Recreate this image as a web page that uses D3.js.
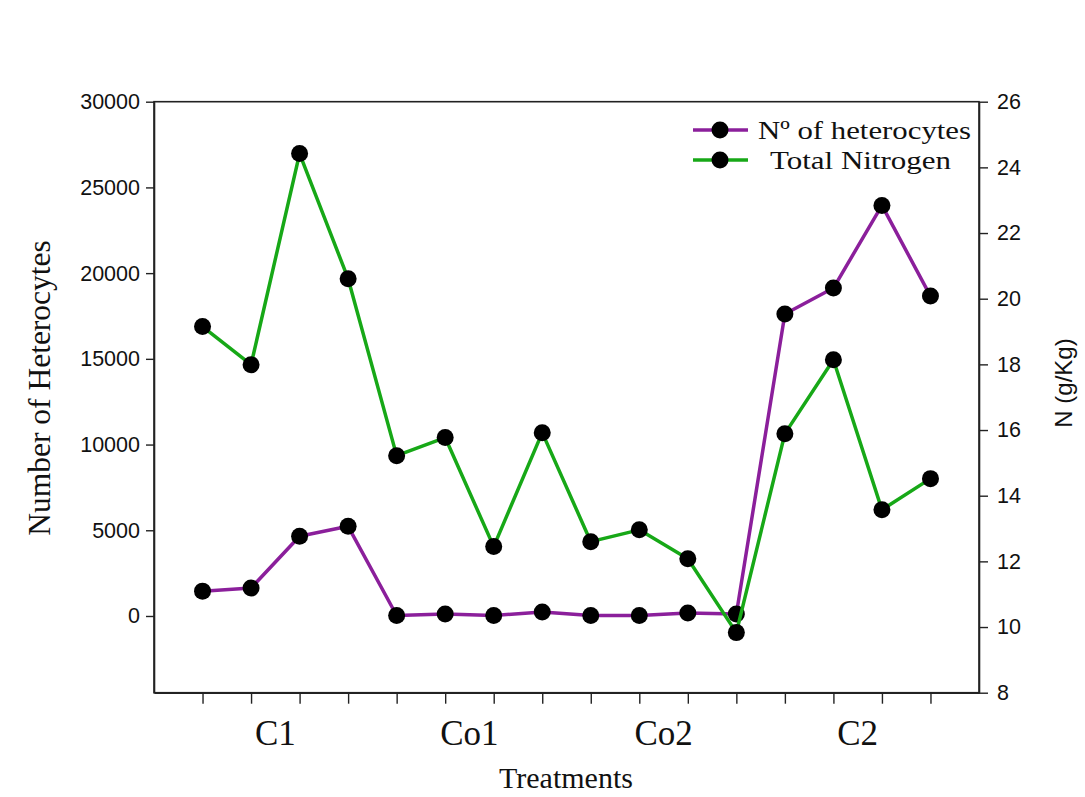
<!DOCTYPE html>
<html>
<head>
<meta charset="utf-8">
<script src="https://cdn.jsdelivr.net/npm/d3@7"></script>
<style>
  body { margin: 0; background: #fff; }
  svg { display: block; }
</style>
</head>
<body>
<svg id="chart" width="1085" height="797"></svg>
<script>
// data
const points = d3.range(16);
const categories = ["C1", "Co1", "Co2", "C2"];
const categoryPos = [1.5, 5.5, 9.5, 13.5];
const heterocytes = [1450, 1630, 4650, 5230, 30, 120, 30, 230, 30, 30, 175, 120, 17620, 19130, 23950, 18660];
const nitrogen = [19.15, 17.99, 24.42, 20.61, 15.22, 15.77, 12.45, 15.92, 12.60, 12.96, 12.08, 9.83, 15.89, 18.14, 13.57, 14.52];
const leftTicks = [0, 5000, 10000, 15000, 20000, 25000, 30000];
const rightTicks = [8, 10, 12, 14, 16, 18, 20, 22, 24, 26];

const purple = "#8b1f9b";
const green = "#17a817";

const svg = d3.select("#chart");
const plotL = 154, plotR = 979, plotT = 101.7, plotB = 692.7;

const x = d3.scaleLinear().domain([-1, 16]).range([plotL, plotR]);
const yL = d3.scaleLinear().domain([-4475, 30000]).range([plotB, plotT]);
const yR = d3.scaleLinear().domain([8, 26]).range([plotB, plotT]);

// frame
svg.append("rect")
  .attr("x", plotL).attr("y", plotT)
  .attr("width", plotR - plotL).attr("height", plotB - plotT)
  .attr("fill", "none").attr("stroke", "#222").attr("stroke-width", 1.6);

// axes
const gL = svg.append("g").attr("transform", `translate(${plotL},0)`)
  .call(d3.axisLeft(yL).tickValues(leftTicks).tickFormat(d3.format("d"))
    .tickSize(8).tickSizeOuter(0).tickPadding(6));
const gR = svg.append("g").attr("transform", `translate(${plotR},0)`)
  .call(d3.axisRight(yR).tickValues(rightTicks).tickSize(9).tickSizeOuter(0).tickPadding(9));
const gB = svg.append("g").attr("transform", `translate(0,${plotB})`)
  .call(d3.axisBottom(x).tickValues(points).tickSize(11).tickSizeOuter(0).tickFormat(""));

[gL, gR, gB].forEach(g => {
  g.select(".domain").attr("stroke", "#222").attr("stroke-width", 1.6);
  g.selectAll(".tick line").attr("stroke", "#222").attr("stroke-width", 1.4);
  g.selectAll(".tick text")
    .attr("fill", "#111")
    .style("font-family", "Arial, 'Liberation Sans', sans-serif")
    .style("font-size", "21.5px");
});

// category labels
svg.selectAll(".cat").data(categories).enter().append("text")
  .attr("class", "cat")
  .attr("x", (d, i) => x(categoryPos[i]))
  .attr("y", 745)
  .attr("text-anchor", "middle")
  .style("font-family", "'Times New Roman', 'Liberation Serif', serif")
  .style("font-size", "35px")
  .attr("fill", "#111")
  .text(d => d);

// axis titles
svg.append("text")
  .attr("x", 566).attr("y", 788)
  .attr("text-anchor", "middle")
  .style("font-family", "'Times New Roman', 'Liberation Serif', serif")
  .style("font-size", "30px")
  .attr("fill", "#111")
  .text("Treatments");

svg.append("text")
  .attr("transform", "translate(50,388) rotate(-90)")
  .attr("text-anchor", "middle")
  .style("font-family", "'Times New Roman', 'Liberation Serif', serif")
  .style("font-size", "31.5px")
  .attr("fill", "#111")
  .text("Number of Heterocytes");

svg.append("text")
  .attr("transform", "translate(1072,383) rotate(-90)")
  .attr("text-anchor", "middle")
  .style("font-family", "Arial, 'Liberation Sans', sans-serif")
  .style("font-size", "24px")
  .attr("fill", "#111")
  .text("N (g/Kg)");

// series
function drawSeries(values, yScale, color) {
  const line = d3.line().x((d, i) => x(i)).y(d => yScale(d));
  svg.append("path")
    .datum(values)
    .attr("d", line)
    .attr("fill", "none")
    .attr("stroke", color)
    .attr("stroke-width", 3.5)
    .attr("stroke-linejoin", "round");
  svg.append("g").selectAll("circle").data(values).enter().append("circle")
    .attr("cx", (d, i) => x(i))
    .attr("cy", d => yScale(d))
    .attr("r", 8.5)
    .attr("fill", "#000");
}
drawSeries(heterocytes, yL, purple);
drawSeries(nitrogen, yR, green);

// legend
const legend = [
  { label: "Nº of heterocytes", color: purple, y: 130, tx: 758, w: 213 },
  { label: "Total Nitrogen", color: green, y: 160, tx: 770, w: 181 }
];
const lg = svg.append("g");
legend.forEach(d => {
  lg.append("line")
    .attr("x1", 693).attr("x2", 748)
    .attr("y1", d.y).attr("y2", d.y)
    .attr("stroke", d.color).attr("stroke-width", 3.5);
  lg.append("circle")
    .attr("cx", 720).attr("cy", d.y).attr("r", 8.5).attr("fill", "#000");
  lg.append("text")
    .attr("x", d.tx).attr("y", d.y + 9)
    .attr("textLength", d.w)
    .attr("lengthAdjust", "spacingAndGlyphs")
    .style("font-family", "'Times New Roman', 'Liberation Serif', serif")
    .style("font-size", "26px")
    .attr("fill", "#111")
    .text(d.label);
});
</script>
</body>
</html>
